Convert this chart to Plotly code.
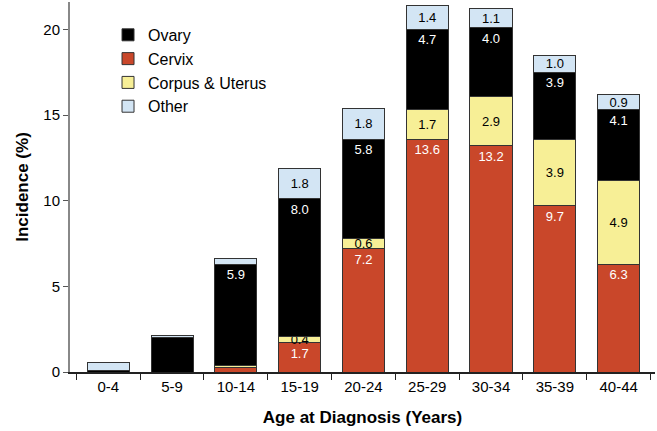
import plotly.graph_objects as go

ages = ["0-4", "5-9", "10-14", "15-19", "20-24", "25-29", "30-34", "35-39", "40-44"]

cervix = [0.0, 0.0, 0.25, 1.7, 7.2, 13.6, 13.2, 9.7, 6.3]
corpus = [0.0, 0.0, 0.15, 0.4, 0.6, 1.7, 2.9, 3.9, 4.9]
ovary = [0.08, 2.0, 5.9, 8.0, 5.8, 4.7, 4.0, 3.9, 4.1]
other = [0.5, 0.15, 0.35, 1.8, 1.8, 1.4, 1.1, 1.0, 0.9]

# labels only where the original prints a value
cervix_txt = ["", "", "", "1.7", "7.2", "13.6", "13.2", "9.7", "6.3"]
corpus_txt = ["", "", "", "0.4", "0.6", "1.7", "2.9", "3.9", "4.9"]
ovary_txt = ["", "", "5.9", "8.0", "5.8", "4.7", "4.0", "3.9", "4.1"]
other_txt = ["", "", "", "1.8", "1.8", "1.4", "1.1", "1.0", "0.9"]

font = "Arial, Liberation Sans, sans-serif"
edge = dict(color="#333333", width=1)

fig = go.Figure()
series = [
    # name, values, labels, fill, label colour, label anchor, legend rank
    ("Cervix", cervix, cervix_txt, "#C9472A", "white", "end", 2),
    ("Corpus & Uterus", corpus, corpus_txt, "#F7EF96", "black", "middle", 3),
    ("Ovary", ovary, ovary_txt, "#000000", "white", "end", 1),
    ("Other", other, other_txt, "#D3E5F4", "black", "middle", 4),
]
for name, vals, txt, col, tcol, anchor, rank in series:
    fig.add_trace(go.Bar(
        x=ages, y=vals, name=name, text=txt, legendrank=rank,
        textposition="inside", insidetextanchor=anchor, textangle=0,
        constraintext="none",
        insidetextfont=dict(family=font, size=13, color=tcol),
        marker=dict(color=col, line=edge),
        hoverinfo="x+y+name",
    ))

fig.update_layout(
    barmode="stack",
    bargap=0.34,
    width=657, height=431,
    margin=dict(l=70, r=2, t=2, b=59),
    plot_bgcolor="white", paper_bgcolor="white",
    font=dict(family=font, size=15, color="black"),
    legend=dict(
        traceorder="normal",
        x=0.065, y=0.957, xanchor="left", yanchor="top",
        font=dict(size=16), bgcolor="rgba(0,0,0,0)",
        itemwidth=30, tracegroupgap=0,
    ),
    xaxis=dict(
        title=dict(text="<b>Age at Diagnosis (Years)</b>", font=dict(size=17), standoff=17),
        range=[-0.6, 8.57], automargin=False,
        showline=True, linecolor="#222222", linewidth=1.5,
        ticks="outside", tickson="boundaries", ticklen=6, tickcolor="#222222",
        tickfont=dict(size=15),
    ),
    yaxis=dict(
        title=dict(text="<b>Incidence (%)</b>", font=dict(size=17), standoff=10),
        range=[0, 21.6], automargin=False,
        tickvals=[0, 5, 10, 15, 20],
        showline=True, linecolor="#888888", linewidth=2,
        ticks="outside", ticklen=5, tickcolor="#555555",
        showgrid=False, zeroline=False,
        tickfont=dict(size=15),
    ),
)

# drop the browser's default page margin so the figure sits at the window corner
fig.write_html("out.html", config={"displayModeBar": False},
               post_script="document.body.style.margin='0';")
